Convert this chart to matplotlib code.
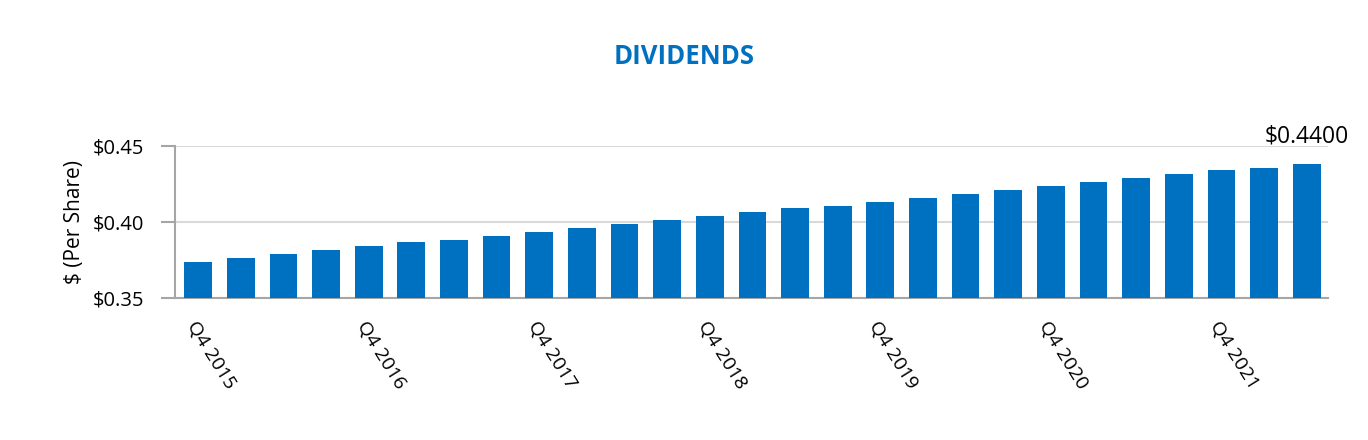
import matplotlib.pyplot as plt
import numpy as np

plt.rcParams['font.family'] = ['Open Sans', 'DejaVu Sans']

# quarterly dividends per share, Q4 2015 .. Q2 2022
quarters = ['Q4 2015', 'Q1 2016', 'Q2 2016', 'Q3 2016',
            'Q4 2016', 'Q1 2017', 'Q2 2017', 'Q3 2017',
            'Q4 2017', 'Q1 2018', 'Q2 2018', 'Q3 2018',
            'Q4 2018', 'Q1 2019', 'Q2 2019', 'Q3 2019',
            'Q4 2019', 'Q1 2020', 'Q2 2020', 'Q3 2020',
            'Q4 2020', 'Q1 2021', 'Q2 2021', 'Q3 2021',
            'Q4 2021', 'Q1 2022', 'Q2 2022']
dividends = [0.3739, 0.3765, 0.3791, 0.3817, 0.3843, 0.3869, 0.3882,
             0.3909, 0.3935, 0.3961, 0.3987, 0.4013, 0.4039, 0.4065,
             0.4092, 0.4105, 0.4131, 0.4157, 0.4183, 0.4209, 0.4235,
             0.4261, 0.4288, 0.4314, 0.4340, 0.4353, 0.4379]
last_label = '$0.4400'
yticks = [0.35, 0.40, 0.45]

blue = '#0070C0'
grey = '#A6A6A6'

fig = plt.figure(figsize=(13.68, 4.40), dpi=100)
ax = fig.add_axes([0.128, 0.3216, 0.8428, 0.3477])

x = np.arange(len(quarters))
ax.bar(x, dividends, width=0.65, color=blue, zorder=3)

ax.set_ylim(0.35, 0.45)
ax.set_xlim(-0.54, len(quarters) - 0.5)
ax.set_yticks(yticks)
ax.set_yticklabels(['$%.2f' % v for v in yticks], fontsize=14.5)
ax.yaxis.grid(True, color='#D9D9D9', linewidth=1.5, zorder=0)

# label every fourth quarter (the Q4s)
ax.set_xticks(x[::4])
ax.set_xticklabels(quarters[::4], fontsize=14, rotation=-58,
                   ha='left', va='top', rotation_mode='anchor')
ax.tick_params(axis='x', length=0, pad=14)
ax.tick_params(axis='y', length=10, width=1.5, color=grey, pad=12)

for s in ['top', 'right']:
    ax.spines[s].set_visible(False)
for s in ['left', 'bottom']:
    ax.spines[s].set_color(grey)
    ax.spines[s].set_linewidth(1.5)

ax.set_ylabel('$ (Per Share)', fontsize=15, labelpad=6)

ax.annotate(last_label, (x[-1], dividends[-1]), xytext=(0, 11),
            textcoords='offset points', ha='center', va='bottom',
            fontsize=16.5)

fig.text(0.5, 0.872, 'DIVIDENDS', ha='center', va='center',
         fontsize=18.5, fontweight='bold', color=blue)

fig.savefig('out.png', dpi=100)
